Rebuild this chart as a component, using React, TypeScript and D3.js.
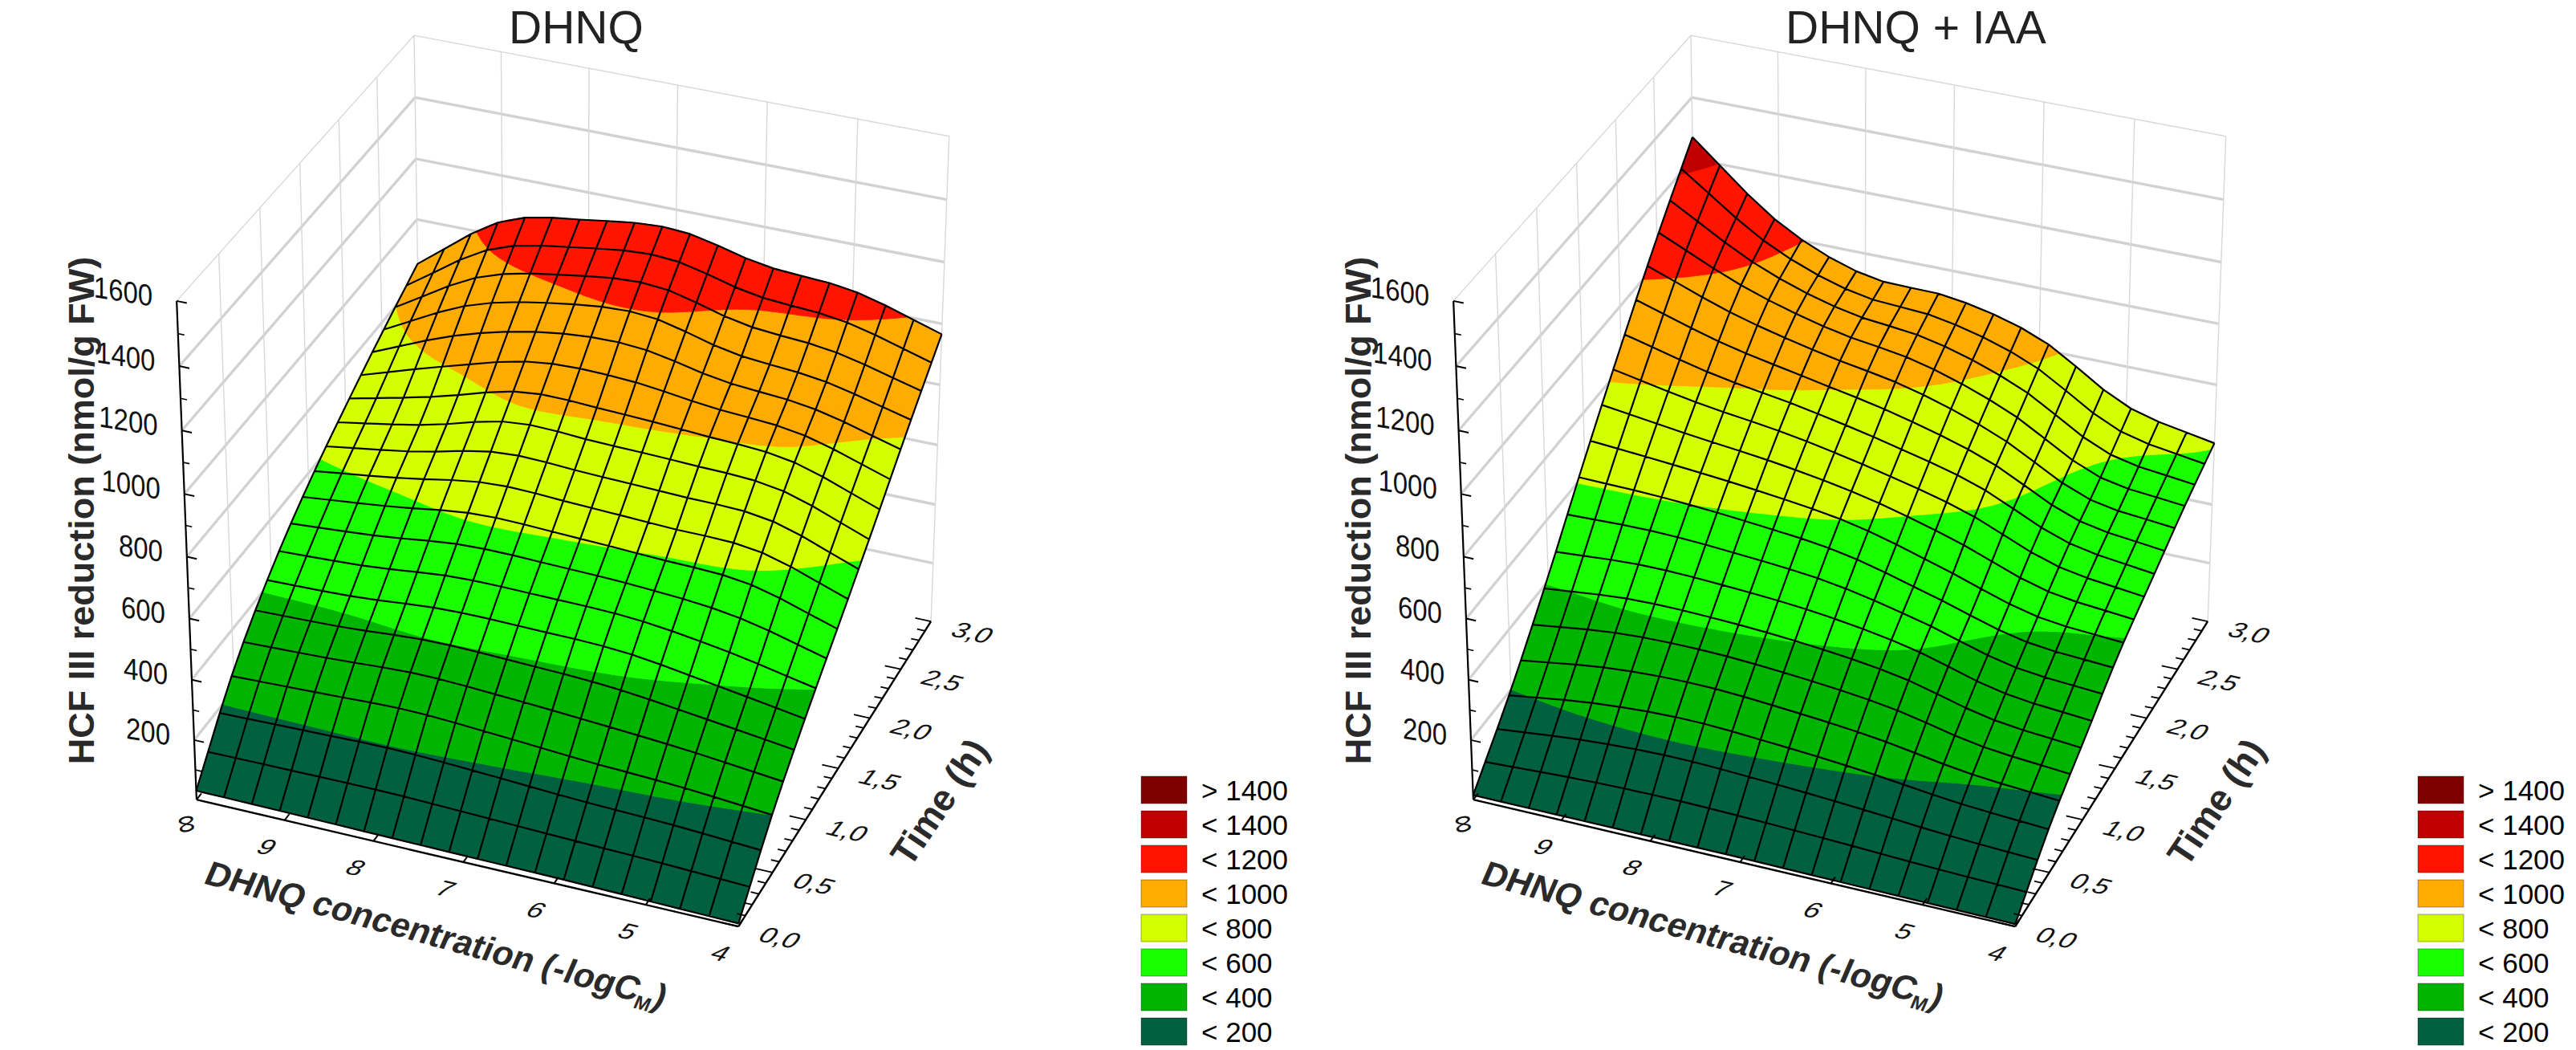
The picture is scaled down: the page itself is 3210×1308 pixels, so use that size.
import React, { useMemo } from 'react';
import * as d3 from 'd3';

// concentration axis (-logC); the control (no DHNQ) is shown as ∞ and placed at 10
const concLabels = ['∞', '9', '8', '7', '6', '5', '4'];
const concValues = [10, 9, 8, 7, 6, 5, 4];
const timeValues = [0, 0.5, 1, 1.5, 2, 2.5, 3];
const timeLabels = ['0,0', '0,5', '1,0', '1,5', '2,0', '2,5', '3,0'];
const zTickValues = [200, 400, 600, 800, 1000, 1200, 1400, 1600];

// HCF III reduction (nmol/g FW): rows = time (0 .. 3 h), columns = concentration (∞ .. 4)
const dhnq = [
  [30, 28, 25, 22, 20, 15, 10],
  [265, 275, 285, 270, 250, 235, 210],
  [435, 445, 470, 470, 462, 420, 370],
  [565, 600, 640, 633, 620, 606, 515],
  [670, 730, 805, 800, 788, 765, 665],
  [765, 900, 965, 985, 920, 890, 820],
  [852, 1050, 1110, 1135, 1075, 1050, 966],
];

const dhnqIaa = [
  [15, 15, 15, 15, 12, 10, 8],
  [200, 240, 255, 240, 215, 180, 160],
  [415, 440, 435, 415, 375, 300, 270],
  [648, 633, 608, 570, 490, 405, 380],
  [870, 805, 760, 700, 625, 505, 460],
  [1080, 960, 880, 830, 730, 580, 540],
  [1271, 1045, 928, 911, 835, 670, 606],
];

const levels = [200, 400, 600, 800, 1000, 1200, 1400];
const levelColors = ['#00603f', '#00b400', '#1aff00', '#d4ff00', '#ffab00', '#ff1400', '#c00000', '#800000'];
const legendLabels = ['> 1400', '< 1400', '< 1200', '< 1000', '< 800', '< 600', '< 400', '< 200'];

const panels = [
  { title: 'DHNQ', grid: dhnq, dx: 0 },
  { title: 'DHNQ + IAA', grid: dhnqIaa, dx: 1591 },
];

const camera = { azimuth: -21.7, elevation: 32, distance: 21, scale: 361, cx: 712.6, cy: 584 };
const MESH = 19; // mesh intervals per side
const SUB = 3; // fill subdivisions per mesh cell

const FONT = '"Liberation Sans", Arial, Helvetica, sans-serif';

const xScale = d3.scaleLinear().domain([10, 4]).range([-1, 1]);
const tScale = d3.scaleLinear().domain([0, 3]).range([-1, 1]);
const zScale = d3.scaleLinear().domain([0, 1600]).range([-1, 1]);
const colToConc = d3
  .scaleLinear()
  .domain([0, concValues.length - 1])
  .range([concValues[0], concValues[concValues.length - 1]]);
const rowToTime = d3
  .scaleLinear()
  .domain([0, timeValues.length - 1])
  .range([timeValues[0], timeValues[timeValues.length - 1]]);

type P3 = [number, number, number]; // conc, time, value

function makeProjector() {
  const a = (camera.azimuth * Math.PI) / 180;
  const e = (camera.elevation * Math.PI) / 180;
  const ca = Math.cos(a), sa = Math.sin(a), ce = Math.cos(e), se = Math.sin(e);
  const f = camera.scale * camera.distance;
  return (conc: number, t: number, z: number): [number, number] => {
    const X = xScale(conc), Y = tScale(t), Z = zScale(z);
    const x1 = X * ca - Y * sa;
    const y1 = X * sa + Y * ca;
    const depth = camera.distance + y1 * ce - Z * se;
    const up = y1 * se + Z * ce;
    return [camera.cx + (f * x1) / depth, camera.cy - (f * up) / depth];
  };
}

// smooth surface through the table (Catmull-Rom in both directions)
function spline(v: number[], s: number) {
  const n = v.length - 1;
  let i = Math.floor(s);
  if (i > n - 1) i = n - 1;
  if (i < 0) i = 0;
  const f = s - i;
  const p1 = v[i], p2 = v[i + 1];
  const p0 = i > 0 ? v[i - 1] : 2 * p1 - p2;
  const p3 = i + 2 <= n ? v[i + 2] : 2 * p2 - p1;
  return 0.5 * (2 * p1 + (p2 - p0) * f + (2 * p0 - 5 * p1 + 4 * p2 - p3) * f * f + (3 * p1 - p0 - 3 * p2 + p3) * f * f * f);
}
function surfaceAt(grid: number[][], su: number, st: number) {
  return spline(grid.map((row) => spline(row, su)), st);
}

function clip(poly: P3[], fn: (v: P3) => number): P3[] {
  const out: P3[] = [];
  for (let k = 0; k < poly.length; k++) {
    const a = poly[k], b = poly[(k + 1) % poly.length];
    const fa = fn(a), fb = fn(b);
    if (fa >= 0) out.push(a);
    if (fa >= 0 !== fb >= 0) {
      const s = fa / (fa - fb);
      out.push([a[0] + (b[0] - a[0]) * s, a[1] + (b[1] - a[1]) * s, a[2] + (b[2] - a[2]) * s]);
    }
  }
  return out;
}

function buildSurface(grid: number[][], project: ReturnType<typeof makeProjector>) {
  const N = MESH * SUB;
  const nc = concValues.length - 1, nt = timeValues.length - 1;
  const pts: P3[][] = [];
  for (let j = 0; j <= N; j++) {
    const row: P3[] = [];
    for (let i = 0; i <= N; i++) {
      const su = (i * nc) / N, st = (j * nt) / N;
      row.push([colToConc(su), rowToTime(st), surfaceAt(grid, su, st)]);
    }
    pts.push(row);
  }
  const bands: string[][] = levelColors.map(() => []);
  const fmt = (v: P3) => {
    const p = project(v[0], v[1], v[2]);
    return p[0].toFixed(1) + ',' + p[1].toFixed(1);
  };
  const add = (b: number, poly: P3[]) => bands[b].push('M' + poly.map(fmt).join('L') + 'Z');
  const tri = (p: P3, q: P3, r: P3) => {
    const lo = Math.min(p[2], q[2], r[2]), hi = Math.max(p[2], q[2], r[2]);
    const b0 = d3.bisectRight(levels, lo), b1 = d3.bisectRight(levels, hi);
    if (b0 === b1) return add(b0, [p, q, r]);
    for (let b = b0; b <= b1; b++) {
      let poly: P3[] = [p, q, r];
      if (b > 0) poly = clip(poly, (v) => v[2] - levels[b - 1]);
      if (b < levels.length) poly = clip(poly, (v) => levels[b] - v[2]);
      if (poly.length >= 3) add(b, poly);
    }
  };
  for (let j = 0; j < N; j++) {
    for (let i = 0; i < N; i++) {
      tri(pts[j][i], pts[j][i + 1], pts[j + 1][i + 1]);
      tri(pts[j][i], pts[j + 1][i + 1], pts[j + 1][i]);
    }
  }
  const line = d3.line();
  const mesh: string[] = [];
  for (let k = 0; k <= MESH; k++) {
    const alongConc: [number, number][] = [];
    const alongTime: [number, number][] = [];
    for (let m = 0; m <= MESH; m++) {
      const a = pts[k * SUB][m * SUB];
      const b = pts[m * SUB][k * SUB];
      alongConc.push(project(a[0], a[1], a[2]));
      alongTime.push(project(b[0], b[1], b[2]));
    }
    mesh.push(line(alongConc) as string, line(alongTime) as string);
  }
  return { bands: bands.map((b) => b.join('')), mesh };
}

const Panel: React.FC<{ title: string; grid: number[][]; dx: number }> = ({ title, grid, dx }) => {
  const project = useMemo(() => makeProjector(), []);
  const surface = useMemo(() => buildSurface(grid, project), [grid, project]);
  const line = d3.line();
  const seg = (a: P3, b: P3) => line([project(a[0], a[1], a[2]), project(b[0], b[1], b[2])]) as string;

  const cMin = concValues[0], cMax = concValues[concValues.length - 1];
  const tMax = timeValues[timeValues.length - 1];
  const zTop = zTickValues[zTickValues.length - 1];
  const wallThin: string[] = [];
  const wallThick: string[] = [];
  timeValues.slice(1).forEach((t) => wallThin.push(seg([cMin, t, 0], [cMin, t, zTop])));
  concValues.forEach((c) => wallThin.push(seg([c, tMax, 0], [c, tMax, zTop])));
  wallThin.push(seg([cMin, 0, zTop], [cMin, tMax, zTop]), seg([cMin, tMax, zTop], [cMax, tMax, zTop]));
  zTickValues.slice(0, -1).forEach((z) => {
    wallThick.push(seg([cMin, 0, z], [cMin, tMax, z]), seg([cMin, tMax, z], [cMax, tMax, z]));
  });

  const minorZ = d3.range(100, zTop, 200);
  const timeTicks = d3.range(0, 31).map((k) => k / 10);

  const labelTf = (x: number, y: number, extra = '') =>
    `translate(${x.toFixed(1)},${y.toFixed(1)}) rotate(13) skewX(-25) scale(1,0.84)${extra}`;

  return (
    <g transform={`translate(${dx},0)`} fontFamily={FONT}>
      <text x={634} y={54} fontSize={57} fill="#222">
        {title}
      </text>

      <path d={wallThick.join('')} fill="none" stroke="#d2d2d2" strokeWidth={3.4} />
      <path d={wallThin.join('')} fill="none" stroke="#d8d8d8" strokeWidth={1.4} />

      {surface.bands.map((d, b) =>
        d ? <path key={b} d={d} fill={levelColors[b]} stroke={levelColors[b]} strokeWidth={0.8} strokeLinejoin="round" /> : null
      )}
      <path d={surface.mesh.join('')} fill="none" stroke="#000" strokeWidth={2.2} strokeLinejoin="round" />

      {/* value axis */}
      <path d={seg([cMin, 0, 0], [cMin, 0, zTop])} stroke="#000" strokeWidth={2.2} />
      {zTickValues.map((z) => (
        <path key={'zt' + z} d={seg([cMin, 0, z], [cMin - 0.11, 0, z])} stroke="#000" strokeWidth={2} />
      ))}
      {minorZ.map((z) => (
        <path key={'zm' + z} d={seg([cMin, 0, z], [cMin - 0.07, 0, z])} stroke="#000" strokeWidth={1.6} />
      ))}
      {zTickValues.map((z) => {
        const [x, y] = project(cMin, 0, z);
        return (
          <text key={'zl' + z} transform={`translate(${(x - 30).toFixed(1)},${(y - 6).toFixed(1)}) skewY(9) scale(0.97,1.1)`} textAnchor="end" dominantBaseline="central" fontSize={34} fill="#111">
            {z}
          </text>
        );
      })}

      {/* concentration axis */}
      <path d={seg([cMin, 0, 0], [cMax, 0, 0])} stroke="#000" strokeWidth={2.4} />
      {concValues.map((c) => (
        <path key={'xt' + c} d={seg([c, 0, 0], [c, 0.06, 0])} stroke="#000" strokeWidth={2} />
      ))}
      {concValues.map((c, i) => {
        const [x, y] = project(c, 0, 0);
        const inf = i === 0;
        return (
          <text key={'xl' + c} transform={labelTf(x + (inf ? -10 : -22), y + (inf ? 30 : 33), inf ? ' rotate(55)' : '')} textAnchor="middle" dominantBaseline="central" fontSize={inf ? 42 : 34} fill="#111">
            {concLabels[i]}
          </text>
        );
      })}

      {/* time axis */}
      <path d={seg([cMax, 0, 0], [cMax, tMax, 0])} stroke="#000" strokeWidth={2.4} />
      {timeTicks.map((t, k) => (
        <path key={'tt' + k} d={seg([cMax, t, 0], [cMax + (k % 5 === 0 ? 0.18 : 0.09), t, 0])} stroke="#000" strokeWidth={1.8} />
      ))}
      {timeValues.map((t, i) => {
        const [x, y] = project(cMax, t, 0);
        return (
          <text key={'tl' + t} transform={labelTf(x + 52, y + 14)} textAnchor="middle" dominantBaseline="central" fontSize={34} fill="#111">
            {timeLabels[i]}
          </text>
        );
      })}

      {/* axis titles */}
      <text transform="translate(117,636) rotate(-90)" textAnchor="middle" fontSize={45} fontWeight="bold" fill="#2a2a2a">
        HCF III reduction (nmol/g FW)
      </text>
      <text transform="translate(252,1100) rotate(15.3) skewX(-8)" fontSize={43} fontWeight="bold" fill="#2a2a2a">
        DHNQ concentration (-logC
        <tspan fontSize={24} dy={8}>
          M
        </tspan>
        <tspan dy={-8}>)</tspan>
      </text>
      <text transform="translate(1134,1082) rotate(-56)" fontSize={46} fontWeight="bold" fill="#2a2a2a">
        Time (h)
      </text>

      {/* legend */}
      {legendLabels.map((label, k) => {
        const y = 967 + k * 43;
        return (
          <g key={label}>
            <rect x={1422} y={y} width={57} height={34} fill={levelColors[levelColors.length - 1 - k]} stroke="rgba(0,0,0,0.35)" strokeWidth={1} />
            <text x={1497} y={y + 17} dominantBaseline="central" fontSize={35} fill="#000">
              {label}
            </text>
          </g>
        );
      })}
    </g>
  );
}

export default function App() {
  return (
    <svg width={3210} height={1308} style={{ position: 'absolute', left: 0, top: 0 }}>
      <rect width={3210} height={1308} fill="#fff" />
      {panels.map((p) => (
        <Panel key={p.title} title={p.title} grid={p.grid} dx={p.dx} />
      ))}
    </svg>
  );
}
